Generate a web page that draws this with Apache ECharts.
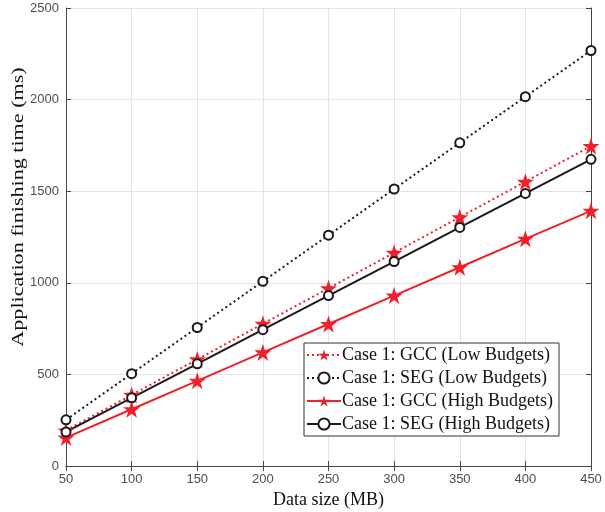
<!DOCTYPE html>
<html><head><meta charset="utf-8">
<script src="https://cdn.jsdelivr.net/npm/echarts@6/dist/echarts.min.js"></script>
<style>html,body{margin:0;padding:0;background:#fff}#c{width:605px;height:512px}</style>
</head><body><div id="c"></div>
<script>
const categories = [50, 100, 150, 200, 250, 300, 350, 400, 450];
const gccLow  = [194, 388, 582, 776, 970, 1164, 1358, 1552, 1746];
const segLow  = [252, 504, 756, 1008, 1260, 1512, 1764, 2016, 2268];
const gccHigh = [155, 310, 465, 620, 775, 930, 1085, 1240, 1393];
const segHigh = [186, 372, 558, 744, 930, 1116, 1302, 1488, 1674];
const seriesNames = ['Case 1: GCC (Low Budgets)','Case 1: SEG (Low Budgets)','Case 1: GCC (High Budgets)','Case 1: SEG (High Budgets)'];
const xTitle = 'Data size (MB)';
const yTitle = 'Application finishing time (ms)';

const star = 'path://M50,0 L61.8,35.3 L99,35.3 L69,57.6 L80.9,93 L50,71 L19.1,93 L31,57.6 L1,35.3 L38.2,35.3 Z';
const RED = '#f0202a', BLK = '#1a1a1a';
const pts = arr => categories.map((c,i)=>[c, arr[i]]);
function mk(name, data, color, dotted, isStar){
  return {
    name, type:'line', data: pts(data), xAxisIndex:0, yAxisIndex:0,
    lineStyle:{color, width:2, type: dotted ? [2,3] : 'solid'},
    itemStyle: isStar ? {color, borderColor:color, borderWidth:0} : {color:'#fff', borderColor:color, borderWidth:2},
    symbol: isStar ? star : 'circle',
    symbolSize: isStar ? 17 : 9,
    showSymbol:true, animation:false, z: 3
  };
}
const axisFont = {fontFamily:'Liberation Sans', fontSize:13, color:'#4d4d4d'};
const chart = echarts.init(document.getElementById('c'));
chart.setOption({
  backgroundColor:'#fff',
  animation:false,
  grid:{left:66, right:14, top:8, bottom:46, containLabel:false, outerBoundsMode:'none'},
  legend:{
    orient:'vertical', left:304, top:343, itemWidth:34, itemHeight:14, itemGap:5,
    padding:[3,6,3,2],
    backgroundColor:'#fff', borderColor:'#333', borderWidth:1, borderRadius:0,
    textStyle:{fontFamily:'Liberation Serif', fontSize:18, color:'#111', padding:[0,0,0,-4]},
    data: seriesNames
  },
  graphic:[{
    type:'text', x:19, y:207, rotation:Math.PI/2, scaleX:1.3, scaleY:1,
    style:{text:yTitle, font:'17px "Liberation Serif"', fill:'#111', align:'center', verticalAlign:'middle'}
  }],
  xAxis:[{
    type:'value', min:50, max:450, interval:50, position:'bottom',
    name:xTitle, nameLocation:'middle', nameGap:22,
    nameTextStyle:{fontFamily:'Liberation Serif', fontSize:18, color:'#111'},
    axisLine:{show:true, lineStyle:{color:'#444', width:1}},
    axisTick:{show:true, inside:true, length:5, lineStyle:{color:'#444'}},
    axisLabel:Object.assign({margin:7, formatter: v => String(v)}, axisFont),
    splitLine:{show:true, lineStyle:{color:'#e3e3e3', width:1}}
  },{
    type:'value', min:50, max:450, interval:50, position:'top',
    axisLine:{show:true, lineStyle:{color:'#444', width:1}},
    axisTick:{show:true, inside:true, length:5, lineStyle:{color:'#444'}},
    axisLabel:{show:false}, splitLine:{show:false}
  }],
  yAxis:[{
    type:'value', min:0, max:2500, interval:500, position:'left',
    axisLine:{show:true, lineStyle:{color:'#444', width:1}},
    axisTick:{show:true, inside:true, length:5, lineStyle:{color:'#444'}},
    axisLabel:Object.assign({margin:7, formatter: v => String(v)}, axisFont),
    splitLine:{show:true, lineStyle:{color:'#e3e3e3', width:1}}
  },{
    type:'value', min:0, max:2500, interval:500, position:'right',
    axisLine:{show:true, lineStyle:{color:'#444', width:1}},
    axisTick:{show:true, inside:true, length:5, lineStyle:{color:'#444'}},
    axisLabel:{show:false}, splitLine:{show:false}
  }],
  series:[
    mk(seriesNames[0], gccLow, RED, true, true),
    mk(seriesNames[1], segLow, BLK, true, false),
    mk(seriesNames[2], gccHigh, RED, false, true),
    mk(seriesNames[3], segHigh, BLK, false, false)
  ]
});
</script></body></html>
